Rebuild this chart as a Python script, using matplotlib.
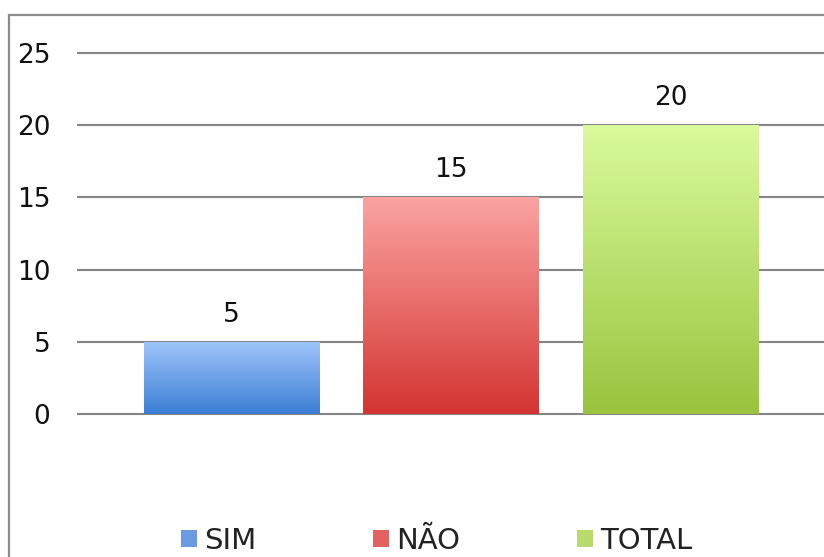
import numpy as np
import matplotlib
matplotlib.use('Agg')
import matplotlib.pyplot as plt
from matplotlib.colors import LinearSegmentedColormap
from matplotlib.patches import Rectangle, Patch

categories = ['SIM', 'NÃO', 'TOTAL']
values = [5, 15, 20]
yticks = [0, 5, 10, 15, 20, 25]

# gradient colors (top, bottom) and legend swatch colors
grad_colors = [('#a0c5fb', '#3b7dd3'), ('#fba4a2', '#d33431'), ('#dafa9c', '#9bc33e')]
swatch_colors = ['#6a9be2', '#e3615e', '#b8db6c']

plt.rcParams['font.family'] = 'DejaVu Sans'

fig = plt.figure(figsize=(8.24, 5.57), dpi=100)
ax = fig.add_axes([78/824, 1 - 414/557, 1 - 78/824, (414 - 53)/557])

x = np.arange(len(categories))
bars = ax.bar(x, values, width=0.8, color='none', edgecolor='none', zorder=3)

for bar, (top, bot) in zip(bars, grad_colors):
    cmap = LinearSegmentedColormap.from_list('g', [bot, top])
    grad = np.linspace(0, 1, 256).reshape(-1, 1)
    bx, by = bar.get_x(), bar.get_y()
    im = ax.imshow(grad, cmap=cmap, aspect='auto', origin='lower',
                   extent=[bx, bx + bar.get_width(), by, by + bar.get_height()],
                   zorder=3)
    im.set_clip_path(bar)

for xi, v in zip(x, values):
    ax.annotate(str(v), (xi, v), xytext=(0, 14.5), textcoords='offset points',
                ha='center', va='baseline', fontsize=19, color='#111111')

ax.set_xlim(-0.7, 2.7)
ax.set_ylim(0, 25)
ax.set_yticks(yticks)
ax.set_yticklabels([str(t) for t in yticks], fontsize=19, color='#111111')
ax.tick_params(axis='y', length=0, pad=20)
ax.set_xticks([])
ax.yaxis.grid(True, color='#858585', linewidth=1.5, zorder=1)
for gl in ax.get_ygridlines():
    gl.set_clip_on(False)
ax.set_axisbelow(True)
for s in ax.spines.values():
    s.set_visible(False)

handles = [Patch(facecolor=c, edgecolor='none') for c in swatch_colors]
fig.legend(handles, categories, loc='center', ncol=3,
           bbox_to_anchor=(0.53, 1 - 541/557), frameon=False,
           fontsize=21, handlelength=0.55, handleheight=0.55,
           handletextpad=0.25, columnspacing=4.0, labelcolor='#222222')

# outer chart frame (cut off on the right and bottom)
fig.patches.append(Rectangle((9/824, -0.1), 1.2, 1.1 - 15/557, transform=fig.transFigure,
                             facecolor='none', edgecolor='#8c8c8c', linewidth=1.6))

fig.savefig('out.png', dpi=100)
